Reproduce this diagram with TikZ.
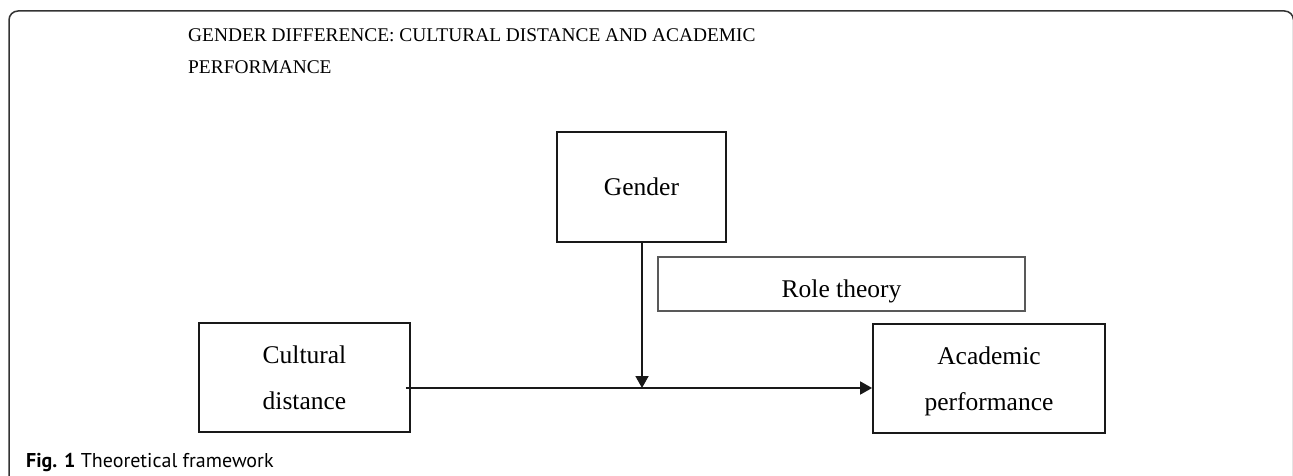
\documentclass[tikz,border=0pt]{standalone}
\usepackage{fontspec}
\setmainfont{Liberation Serif}
\newfontfamily\capfont{PT Sans}
\usetikzlibrary{arrows.meta}
\begin{document}
\begin{tikzpicture}[x=1pt,y=-1pt,
  box/.style={draw=black!90,line width=1.8pt,inner sep=0pt,align=center,
    font=\fontsize{25.5}{46}\selectfont,text depth=0pt},
  thinbox/.style={draw=black!65,line width=1.1pt,inner sep=0pt,
    font=\fontsize{25.5}{30}\selectfont,text height=26pt,text depth=0pt},
  arr/.style={line width=1.8pt,draw=black!90,-{Triangle[length=12pt,width=13pt]}},
  frame/.style={draw=black!80,line width=1.5pt,rounded corners=9pt}]
\useasboundingbox (0,0) rectangle (1293,476);
\draw[frame] (9,480) -- (9,11) -- (1293.5,11) -- (1293.5,480);
\node[anchor=base west,align=left,font=\fontsize{19.4}{32}\selectfont,inner sep=0pt] (title) at (188,74)
  {GENDER DIFFERENCE: CULTURAL DISTANCE AND ACADEMIC\\PERFORMANCE};
\node[box,minimum width=169pt,minimum height=110pt] (gender) at (641.5,187) {Gender};
\node[thinbox,minimum width=367pt,minimum height=54pt] (role) at (841.5,284) {Role theory};
\node[box,minimum width=211pt,minimum height=109pt] (cult) at (304.5,377.5) {Cultural\\distance};
\node[box,minimum width=232pt,minimum height=109pt] (acad) at (989,378.5) {Academic\\performance};
\coordinate (m) at (642,388);
\draw[arr] (gender.south -| m) -- (m);
\draw[arr] ([xshift=-5pt]cult.east |- m) -- (acad.west |- m);
\node[anchor=base west,inner sep=0pt,font=\capfont\fontsize{20}{22}\selectfont] (cap) at (26,467)
  {\textbf{Fig. 1} Theoretical framework};
\end{tikzpicture}
\end{document}
